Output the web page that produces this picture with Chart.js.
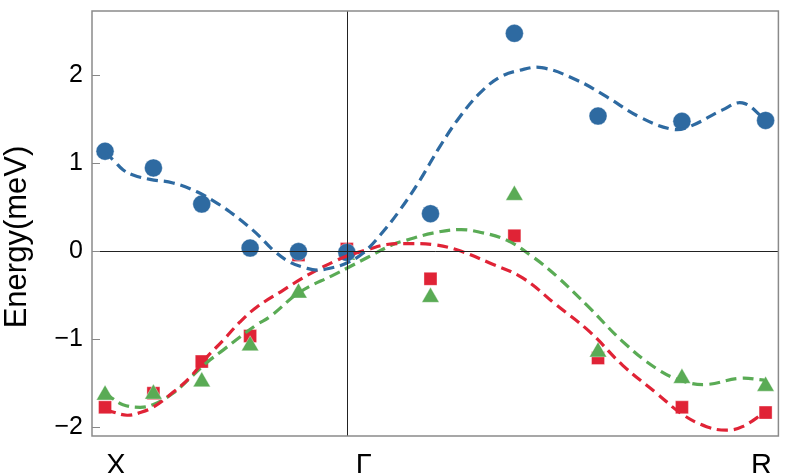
<!DOCTYPE html>
<html>
<head>
<meta charset="utf-8">
<script src="https://cdn.jsdelivr.net/npm/chart.js@4/dist/chart.umd.min.js"></script>
<style>
  html, body { margin: 0; padding: 0; background: #fff; }
</style>
</head>
<body>
<canvas id="chart" width="789" height="473"></canvas>
<script>
// positions along the X–Γ–R path (X–Γ = 1, Γ–R = √3)
const pathPos = [0, 0.2, 0.4, 0.6, 0.8, 1, 1.346, 1.693, 2.039, 2.386, 2.732]

const circleE = [1.13, 0.94, 0.53, 0.03, -0.01, -0.02, 0.42, 2.47, 1.53, 1.47, 1.48]
const squareE = [-1.78, -1.62, -1.26, -0.97, -0.05, 0.02, -0.32, 0.17, -1.22, -1.78, -1.84]
const triangleE = [-1.64, -1.63, -1.49, -1.08, -0.48, -0.05, -0.53, 0.63, -1.15, -1.45, -1.54]

// dashed fit curves
const blueX = [0, 0.041, 0.074, 0.116, 0.186, 0.281, 0.380, 0.446, 0.517, 0.587, 0.640, 0.694, 0.764, 0.835, 0.876, 0.930, 1.0, 1.066, 1.136, 1.219, 1.302, 1.384, 1.467, 1.550, 1.632, 1.715, 1.806, 1.950, 2.074, 2.211, 2.347, 2.417, 2.554, 2.636, 2.727]
const blueY = [1.12, 1.01, 0.92, 0.86, 0.81, 0.77, 0.67, 0.57, 0.44, 0.29, 0.16, 0.01, -0.13, -0.20, -0.22, -0.20, -0.14, -0.03, 0.17, 0.46, 0.80, 1.18, 1.52, 1.79, 1.97, 2.05, 2.08, 1.94, 1.75, 1.52, 1.38, 1.41, 1.60, 1.68, 1.50]

const redX = [0, 0.029, 0.091, 0.145, 0.198, 0.281, 0.351, 0.421, 0.488, 0.558, 0.628, 0.736, 0.806, 0.876, 0.942, 1.0, 1.083, 1.165, 1.248, 1.355, 1.455, 1.591, 1.727, 1.868, 2.004, 2.140, 2.281, 2.388, 2.488, 2.570, 2.636, 2.727]
const redY = [-1.80, -1.83, -1.87, -1.84, -1.78, -1.61, -1.44, -1.21, -1.02, -0.81, -0.64, -0.45, -0.33, -0.22, -0.13, -0.06, 0.01, 0.07, 0.08, 0.07, 0.01, -0.14, -0.31, -0.62, -0.92, -1.30, -1.62, -1.86, -2.00, -2.04, -2.00, -1.84]

const greenX = [0, 0.021, 0.074, 0.145, 0.198, 0.281, 0.351, 0.421, 0.488, 0.558, 0.628, 0.682, 0.806, 0.942, 1.0, 1.083, 1.190, 1.248, 1.355, 1.467, 1.550, 1.661, 1.769, 1.868, 2.004, 2.140, 2.281, 2.388, 2.488, 2.624, 2.727]
const greenY = [-1.61, -1.66, -1.75, -1.78, -1.75, -1.62, -1.45, -1.27, -1.13, -0.98, -0.84, -0.75, -0.47, -0.28, -0.20, -0.08, 0.07, 0.12, 0.20, 0.24, 0.21, 0.12, -0.07, -0.29, -0.65, -1.03, -1.34, -1.48, -1.52, -1.45, -1.47]

const xLabels = ['X', 'Γ', 'R']
const xLabelPos = [0.045, 1.07, 2.715]
const yTicks = [-2, -1, 0, 1, 2]

const BLUE = '#2e6aa1'
const RED = '#e02336'
const GREEN = '#5aab55'
const FONT = 'Liberation Sans'

const pts = (xs, ys) => xs.map((x, i) => ({ x, y: ys[i] }))

const markerSet = (ys, style, color, radius, order) => ({
  data: pts(pathPos, ys),
  showLine: false,
  pointStyle: style,
  pointRadius: radius,
  pointBackgroundColor: color,
  pointBorderColor: 'rgba(255,255,255,0.6)',
  pointBorderWidth: 0.6,
  order,
})

const curveSet = (xs, ys, color, order) => ({
  data: pts(xs, ys),
  borderColor: color,
  borderWidth: 3.2,
  borderDash: [11, 6],
  pointRadius: 0,
  tension: 0.4,
  fill: false,
  order,
})

const framePlugin = {
  id: 'frame',
  afterDatasetsDraw(chart) {
    const { ctx, chartArea: a, scales: { x, y } } = chart
    ctx.save()
    // reference lines at E = 0 and Γ
    ctx.strokeStyle = '#222'
    ctx.lineWidth = 1
    const y0 = Math.round(y.getPixelForValue(0)) + 0.5
    const xg = Math.round(x.getPixelForValue(1)) + 0.5
    ctx.beginPath()
    ctx.moveTo(a.left, y0); ctx.lineTo(a.right, y0)
    ctx.moveTo(xg, a.top); ctx.lineTo(xg, a.bottom)
    ctx.stroke()
    // inward y tick marks
    ctx.strokeStyle = '#888'
    ctx.beginPath()
    yTicks.forEach(v => {
      const py = Math.round(y.getPixelForValue(v)) + 0.5
      ctx.moveTo(a.left, py); ctx.lineTo(a.left + 8, py)
    })
    ctx.stroke()
    // frame
    ctx.strokeStyle = '#8a8a8a'
    ctx.lineWidth = 1.5
    ctx.strokeRect(a.left, a.top, a.right - a.left, a.bottom - a.top)
    ctx.restore()
  },
  afterDraw(chart) {
    const { ctx } = chart
    ctx.save()
    ctx.translate(26, 237)
    ctx.rotate(-Math.PI / 2)
    ctx.font = `31px "${FONT}"`
    ctx.fillStyle = '#000'
    ctx.textAlign = 'center'
    ctx.textBaseline = 'alphabetic'
    ctx.fillText('Energy(meV)', 0, 0)
    ctx.restore()
  },
}

new Chart(document.getElementById('chart'), {
  type: 'line',
  data: {
    datasets: [
      curveSet(blueX, blueY, BLUE, 1),
      curveSet(redX, redY, RED, 2),
      curveSet(greenX, greenY, GREEN, 3),
      markerSet(circleE, 'circle', BLUE, 9, 4),
      markerSet(triangleE, 'triangle', GREEN, 10, 5),
      markerSet(squareE, 'rect', RED, 9.2, 6),
    ],
  },
  options: {
    responsive: false,
    animation: false,
    layout: { padding: { top: 11, right: 10, left: 0, bottom: 0 } },
    plugins: { legend: { display: false }, tooltip: { enabled: false } },
    scales: {
      x: {
        type: 'linear',
        min: -0.054,
        max: 2.785,
        grid: { display: false },
        border: { display: false },
        afterBuildTicks: s => { s.ticks = xLabelPos.map(v => ({ value: v })) },
        afterFit: s => { s.height = 37; s.paddingLeft = 0; s.paddingRight = 0 },
        ticks: {
          autoSkip: false,
          maxRotation: 0,
          padding: 5,
          color: '#000',
          font: { family: FONT, size: 29 },
          callback: (v, i) => xLabels[i],
        },
      },
      y: {
        min: -2.106,
        max: 2.724,
        grid: { display: false, drawTicks: false },
        border: { display: false },
        afterBuildTicks: s => { s.ticks = yTicks.map(v => ({ value: v })) },
        afterFit: s => { s.width = 92; s.paddingTop = 0; s.paddingBottom = 0 },
        ticks: {
          padding: 9,
          color: '#000',
          font: { family: FONT, size: 25 },
          callback: v => (v < 0 ? '\u2212' + Math.abs(v) : String(v)),
        },
      },
    },
  },
  plugins: [framePlugin],
})
</script>
</body>
</html>
